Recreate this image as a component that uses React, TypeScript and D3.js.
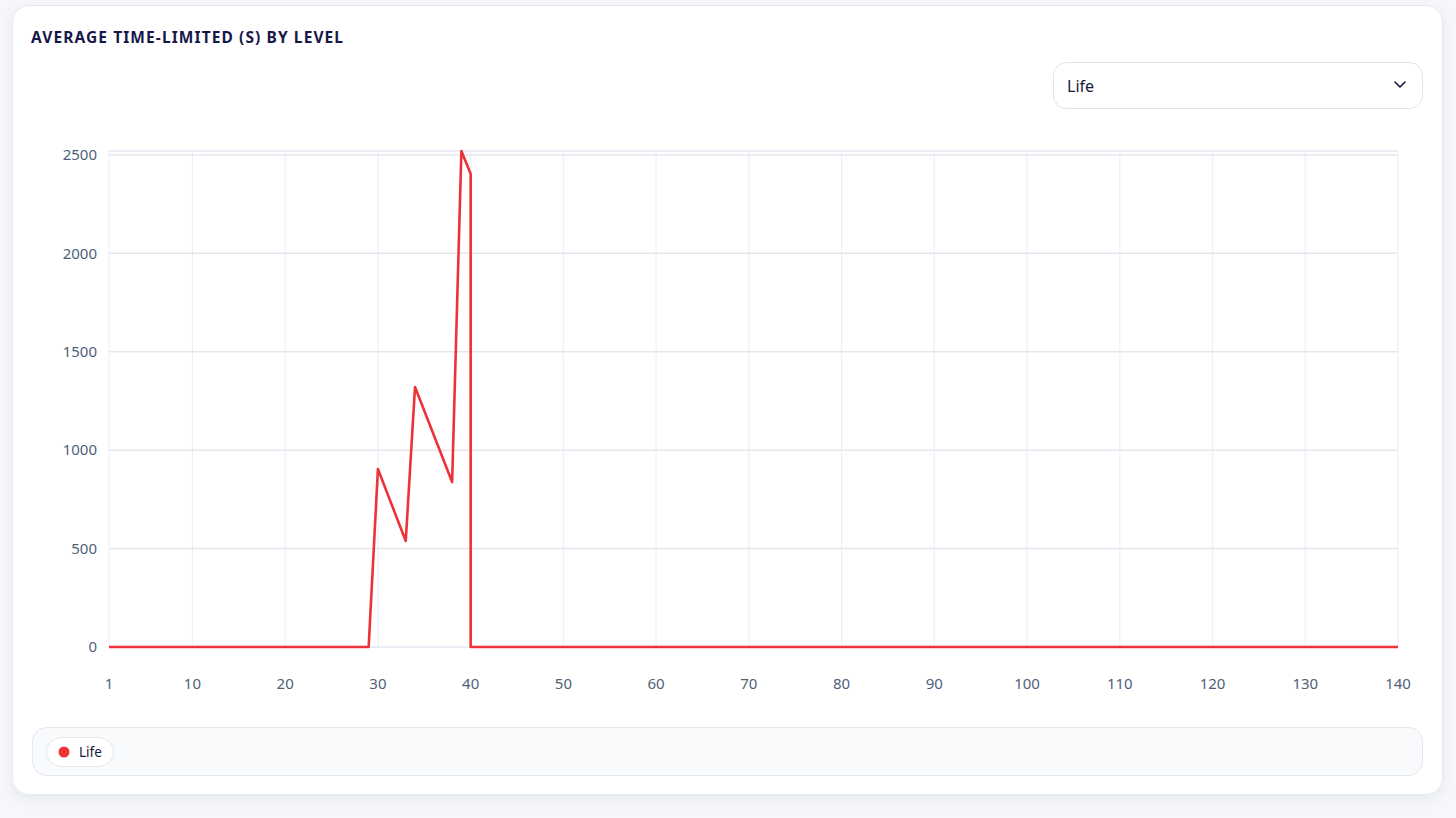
import { useEffect, useRef } from 'react'
import * as d3 from 'd3'

// values (level -> avg time-limited seconds)
const levels = [1, 29, 30, 33, 34, 38, 39, 40, 40, 140]
const seconds = [0, 0, 904, 539, 1321, 838, 2520, 2404, 0, 0]
const xTicks = [1, 10, 20, 30, 40, 50, 60, 70, 80, 90, 100, 110, 120, 130, 140]
const yTicks = [0, 500, 1000, 1500, 2000, 2500]
const seriesName = 'Life'
const title = 'AVERAGE TIME-LIMITED (S) BY LEVEL'

const W = 1456
const H = 818
const FONT = '"Noto Sans", "Open Sans", sans-serif'
const RED = '#ee3338'

export default function App() {
  const ref = useRef<SVGSVGElement>(null)

  useEffect(() => {
    document.body.style.margin = '0'
    const svg = d3.select(ref.current)
    svg.selectAll('*').remove()

    const defs = svg.append('defs')
    const f = defs.append('filter').attr('id', 'shadow').attr('x', '-5%').attr('y', '-5%').attr('width', '110%').attr('height', '115%')
    f.append('feDropShadow').attr('dx', 0).attr('dy', 4).attr('stdDeviation', 6).attr('flood-color', '#1e2a4a').attr('flood-opacity', 0.06)

    svg.append('rect').attr('width', W).attr('height', H).attr('fill', '#f5f7fa')

    // card
    svg.append('rect')
      .attr('x', 12.5).attr('y', 5.5).attr('width', 1430).attr('height', 789).attr('rx', 16)
      .attr('fill', '#fff').attr('stroke', '#e4e8ef').attr('filter', 'url(#shadow)')

    svg.append('text')
      .attr('x', 31).attr('y', 43)
      .attr('font-family', FONT).attr('font-size', 15.5).attr('font-weight', 700)
      .attr('letter-spacing', 1.1).attr('fill', '#17184a')
      .text(title)

    // dropdown
    const dd = svg.append('g')
    dd.append('rect').attr('x', 1053.5).attr('y', 62.5).attr('width', 369).attr('height', 46).attr('rx', 13)
      .attr('fill', '#fff').attr('stroke', '#dfe3ee')
    dd.append('text').attr('x', 1067).attr('y', 91.5).attr('font-family', FONT).attr('font-size', 16)
      .attr('fill', '#17183a').text(seriesName)
    dd.append('path').attr('d', 'M1395,82 L1400,87 L1405,82').attr('fill', 'none')
      .attr('stroke', '#17183a').attr('stroke-width', 1.6).attr('stroke-linecap', 'round').attr('stroke-linejoin', 'round')

    // plot
    const x = d3.scaleLinear().domain([1, 140]).range([109, 1398])
    const y = d3.scaleLinear().domain([0, 2520]).range([647, 151])

    const g = svg.append('g')
    g.selectAll('line.vg').data(xTicks).join('line')
      .attr('x1', (d) => x(d)).attr('x2', (d) => x(d)).attr('y1', y(2520)).attr('y2', y(0))
      .attr('stroke', '#edf0f5').attr('stroke-width', 1.2)
    g.selectAll('line.hg').data([...yTicks, 2520]).join('line')
      .attr('x1', x(1)).attr('x2', x(140)).attr('y1', (d) => y(d)).attr('y2', (d) => y(d))
      .attr('stroke', '#e3e8f0').attr('stroke-width', 1.5)

    g.selectAll('text.yt').data(yTicks).join('text')
      .attr('x', 97).attr('y', (d) => y(d)).attr('dy', '0.35em').attr('text-anchor', 'end')
      .attr('font-family', FONT).attr('font-size', 15).attr('fill', '#4f5f7a')
      .text((d) => String(d))
    g.selectAll('text.xt').data(xTicks).join('text')
      .attr('x', (d) => x(d)).attr('y', 689).attr('text-anchor', 'middle')
      .attr('font-family', FONT).attr('font-size', 15).attr('fill', '#4f5f7a')
      .text((d) => String(d))

    const line = d3.line<number>()
      .x((_, i) => x(levels[i]))
      .y((d) => y(d))
    g.append('path').attr('d', line(seconds) ?? '')
      .attr('fill', 'none').attr('stroke', RED).attr('stroke-width', 2.6).attr('stroke-linejoin', 'round')

    // legend
    svg.append('rect').attr('x', 32.5).attr('y', 727.5).attr('width', 1390).attr('height', 48).attr('rx', 14)
      .attr('fill', '#f8fafc').attr('stroke', '#e3e8ef')
    svg.append('rect').attr('x', 46.5).attr('y', 737.5).attr('width', 67).attr('height', 29).attr('rx', 14.5)
      .attr('fill', '#fff').attr('stroke', '#e3e8ef')
    svg.append('circle').attr('cx', 64).attr('cy', 752).attr('r', 5.5).attr('fill', RED)
    svg.append('text').attr('x', 79).attr('y', 757).attr('font-family', FONT).attr('font-size', 13.5)
      .attr('fill', '#17183a').text(seriesName)
  }, [])

  return <svg ref={ref} width={W} height={H} style={{ display: 'block' }} />
}
